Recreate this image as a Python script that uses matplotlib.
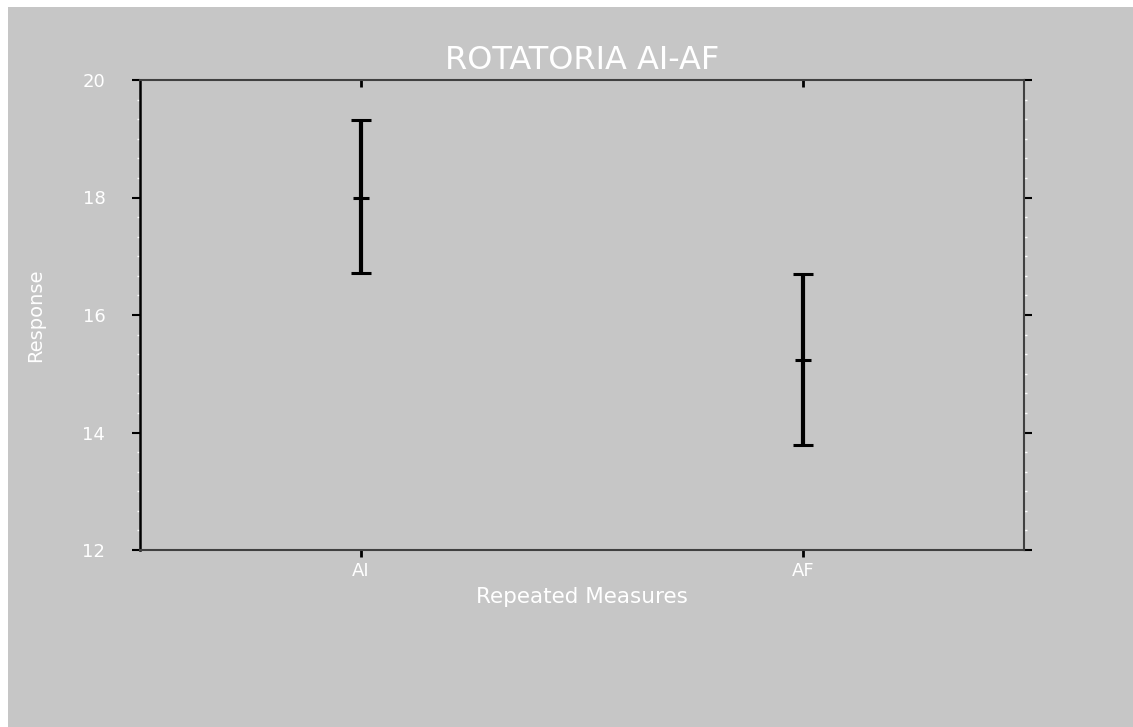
import matplotlib
matplotlib.use("Agg")
import matplotlib.pyplot as plt
from matplotlib.patches import Rectangle
from matplotlib.ticker import MultipleLocator

categories = ["AI", "AF"]
means = [18.0, 15.23]
upper = [19.32, 16.70]
lower = [16.71, 13.79]

BG = "#c6c6c6"

fig = plt.figure(figsize=(11.33, 7.27), dpi=100, facecolor="white")
# gray panel with thin white margin on top/left
fig.patches.append(Rectangle((8 / 1133, 0), 1, 1 - 7 / 727, transform=fig.transFigure,
                             facecolor=BG, edgecolor="none", zorder=-1))

ax = fig.add_axes([140 / 1133, 1 - 550 / 727, 884 / 1133, 470 / 727])
ax.set_facecolor(BG)

x = list(range(1, len(categories) + 1))
yerr = [[m - l for m, l in zip(means, lower)], [u - m for m, u in zip(means, upper)]]
ax.errorbar(x, means, yerr=yerr, fmt="_", color="black", ecolor="black",
            elinewidth=3, capsize=7, capthick=2.2, markersize=11.5, mew=2.2)

ax.set_xlim(0.5, 2.5)
ax.set_ylim(12, 20)
ax.set_xticks(x)
ax.set_xticklabels(categories)
ax.set_yticks([12, 14, 16, 18, 20])
ax.yaxis.set_minor_locator(MultipleLocator(1 / 3))

for side in ["top", "right", "bottom"]:
    ax.spines[side].set_color("#404040")
    ax.spines[side].set_linewidth(1.5)
ax.spines["left"].set_color("black")
ax.spines["left"].set_linewidth(1.8)

ax.tick_params(axis="y", which="major", direction="out", length=6, width=1.5,
               color="black", labelcolor="white", labelsize=13, pad=19,
               left=True, right=True)
ax.tick_params(axis="y", which="minor", direction="out", length=2.5, width=1,
               color="white", left=True, right=True)
ax.tick_params(axis="x", which="major", direction="in", length=5, width=2,
               color="black", labelcolor="white", labelsize=13, pad=9,
               bottom=True, top=True)
ax.tick_params(axis="x", which="minor", bottom=False, top=False)
# bottom x ticks point outward, top ones stay inward
for t in ax.xaxis.get_major_ticks():
    t.tick1line.set_marker(3)
    t.tick1line.set_markersize(5)

ax.set_title("ROTATORIA AI-AF", color="white", fontsize=23, pad=8)
ax.set_xlabel("Repeated Measures", color="white", fontsize=15.5, labelpad=5)
ax.set_ylabel("Response", color="white", fontsize=14, labelpad=27)

fig.savefig("out.png", dpi=100, facecolor=fig.get_facecolor())
